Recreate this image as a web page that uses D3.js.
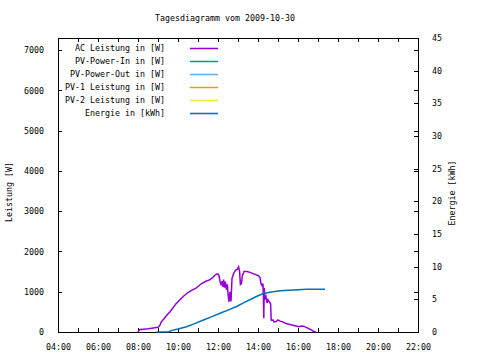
<!DOCTYPE html>
<html><head><meta charset="utf-8">
<script src="https://cdn.jsdelivr.net/npm/d3@7"></script>
<style>body{margin:0;background:#fff}svg{display:block}</style>
</head><body>
<svg id="c" width="480" height="360"></svg>
<script>
const title = "Tagesdiagramm vom 2009-10-30";
const xTicks = [4,5,6,7,8,9,10,11,12,13,14,15,16,17,18,19,20,21,22];
const leftTicks = [0,1000,2000,3000,4000,5000,6000,7000];
const rightTicks = [0,5,10,15,20,25,30,35,40,45];
const seriesNames = ["AC Leistung in [W]","PV-Power-In in [W]","PV-Power-Out in [W]","PV-1 Leistung in [W]","PV-2 Leistung in [W]","Energie in [kWh]"];
const seriesColors = ["#9400d3","#009e73","#56b4e9","#e69f00","#f0e442","#0072b2"];

// AC Leistung [W]
const acTime = [8.0,8.05,8.1,8.3,8.5,8.7,8.9,9.0,9.1,9.15,9.3,9.45,9.6,9.75,9.9,10.1,10.3,10.5,10.7,10.9,11.0,11.2,11.4,11.6,11.75,11.85,11.93,12.0,12.05,12.1,12.15,12.2,12.25,12.28,12.32,12.37,12.42,12.47,12.5,12.53,12.55,12.6,12.65,12.7,12.78,12.88,12.97,13.03,13.08,13.12,13.17,13.22,13.3,13.45,13.6,13.75,13.9,14.02,14.1,14.15,14.2,14.25,14.27,14.29,14.31,14.35,14.4,14.45,14.5,14.55,14.6,14.63,14.66,14.7,14.75,14.8,14.9,15.0,15.1,15.25,15.4,15.55,15.75,15.9,16.05,16.2,16.3,16.43,16.55,16.65,16.77,16.9];
const acVals = [0,40,60,70,80,95,110,115,170,240,330,420,505,600,700,800,900,980,1040,1090,1130,1210,1260,1300,1360,1410,1440,1440,1400,1250,1180,1260,1120,1300,1100,1250,1050,1180,960,820,750,1000,760,1330,1450,1540,1560,1620,1500,1180,1200,1400,1500,1500,1480,1450,1420,1400,1350,1200,1150,1200,870,340,1100,830,880,720,800,760,720,700,300,290,300,250,260,300,270,250,210,190,170,150,130,150,140,110,80,60,20,0];

// Energie [kWh]
const enTime = [8.93,9.55,9.7,10.0,10.43,10.8,11.27,11.7,12.1,12.5,12.93,13.3,13.77,14.0,14.27,14.6,15.1,15.77,16.43,17.35];
const enVals = [0,0.05,0.25,0.45,0.8,1.25,1.84,2.35,2.86,3.35,3.9,4.5,5.2,5.55,5.9,6.1,6.3,6.43,6.55,6.55];

const svg = d3.select("#c");
const font = "DejaVu Sans Mono, monospace";
const fs = 8.3;
const L = 58, R = 418, T = 38, B = 332;
const x = d3.scaleLinear().domain([4,22]).range([L,R]);
const yL = d3.scaleLinear().domain([0,7300]).range([B,T]);
const yR = d3.scaleLinear().domain([0,45]).range([B,T]);
const fmtH = h => (h % 2 === 0) ? String(h).padStart(2,"0") + ":00" : "";

function styleAxis(g){
  g.select(".domain").remove();
  g.selectAll("line").attr("stroke","#000").attr("shape-rendering","crispEdges");
  g.selectAll("text").attr("font-family",font).attr("font-size",fs).attr("fill","#000");
}
svg.append("g").attr("transform",`translate(0,${B})`)
  .call(d3.axisBottom(x).tickValues(xTicks).tickFormat(fmtH).tickSize(-4).tickPadding(12)).call(styleAxis);
svg.append("g").attr("transform",`translate(0,${T})`)
  .call(d3.axisTop(x).tickValues(xTicks).tickFormat("").tickSize(-4)).call(styleAxis);
svg.append("g").attr("transform",`translate(${L},0)`)
  .call(d3.axisLeft(yL).tickValues(leftTicks).tickFormat(d3.format("d")).tickSize(-4).tickPadding(14)).call(styleAxis);
svg.append("g").attr("transform",`translate(${R},0)`)
  .call(d3.axisRight(yL).tickValues(leftTicks).tickFormat("").tickSize(-4)).call(styleAxis);
svg.append("g").attr("transform",`translate(${R},0)`)
  .call(d3.axisRight(yR).tickValues(rightTicks).tickFormat(d3.format("d")).tickSize(-4).tickPadding(14)).call(styleAxis);

svg.append("rect").attr("x",L+0.5).attr("y",T+0.5).attr("width",R-L).attr("height",B-T)
  .attr("fill","none").attr("stroke","#000").attr("stroke-width",1).attr("shape-rendering","crispEdges");

const acLine = d3.line().x((d,i)=>x(acTime[i])).y(d=>yL(d));
svg.append("path").datum(acVals).attr("d",acLine).attr("fill","none")
  .attr("stroke",seriesColors[0]).attr("stroke-width",1.5);
const enLine = d3.line().x((d,i)=>x(enTime[i])).y(d=>yR(d));
svg.append("path").datum(enVals).attr("d",enLine).attr("fill","none")
  .attr("stroke",seriesColors[5]).attr("stroke-width",1.5);

svg.append("text").attr("x",225).attr("y",21).attr("text-anchor","middle")
  .attr("font-family",font).attr("font-size",fs).text(title);

const leg = svg.append("g");
seriesNames.forEach((n,i)=>{
  const yy = 48 + i*13;
  leg.append("text").attr("x",165).attr("y",yy+3).attr("text-anchor","end")
    .attr("font-family",font).attr("font-size",fs).text(n);
  leg.append("line").attr("x1",190).attr("x2",218).attr("y1",yy+0.5).attr("y2",yy+0.5)
    .attr("stroke",seriesColors[i]).attr("stroke-width",1.5);
});

svg.append("text").attr("transform","translate(12,192) rotate(-90)").attr("text-anchor","middle")
  .attr("font-family",font).attr("font-size",fs).text("Leistung [W]");
svg.append("text").attr("transform","translate(455,193) rotate(-90)").attr("text-anchor","middle")
  .attr("font-family",font).attr("font-size",fs).text("Energie [kWh]");
</script>
</body></html>
